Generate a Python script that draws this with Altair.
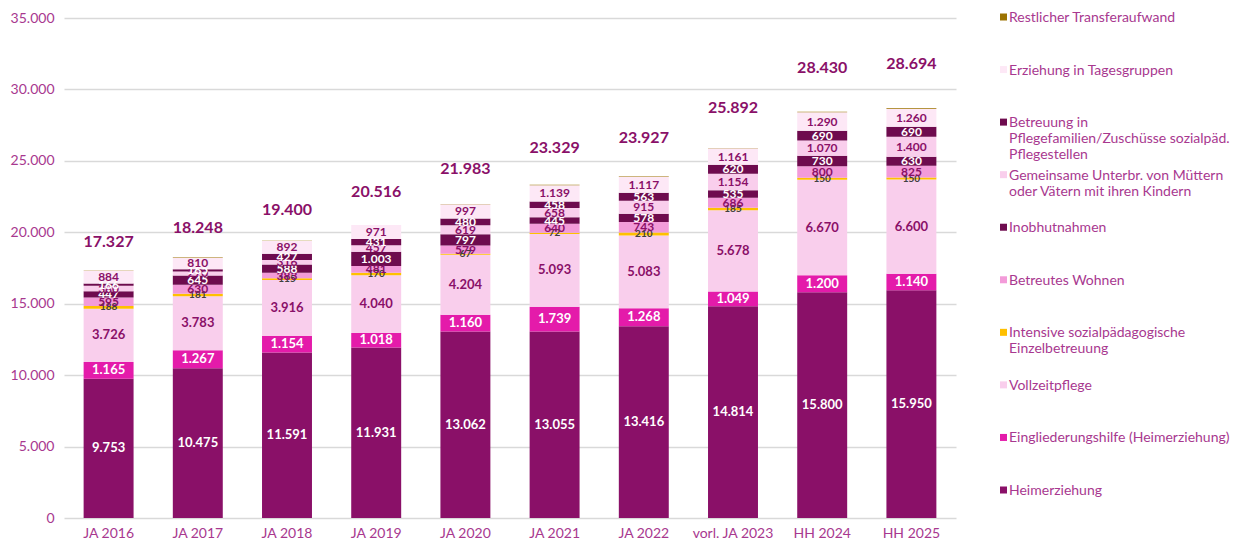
import altair as alt
import pandas as pd

years = ["JA 2016", "JA 2017", "JA 2018", "JA 2019", "JA 2020", "JA 2021",
         "JA 2022", "vorl. JA 2023", "HH 2024", "HH 2025"]

heim = [9753, 10475, 11591, 11931, 13062, 13055, 13416, 14814, 15800, 15950]
eingl = [1165, 1267, 1154, 1018, 1160, 1739, 1268, 1049, 1200, 1140]
vollzeit = [3726, 3783, 3916, 4040, 4204, 5093, 5083, 5678, 6670, 6600]
intensiv = [188, 181, 115, 170, 67, 72, 210, 185, 150, 150]
betreut = [595, 630, 383, 481, 579, 640, 743, 686, 800, 825]
inobhut = [447, 645, 588, 1003, 797, 445, 578, 535, 730, 630]
gemeinsam = [380, 270, 316, 457, 619, 658, 915, 1154, 1070, 1400]
pflege = [166, 165, 427, 431, 480, 458, 563, 620, 690, 690]
tages = [884, 810, 892, 971, 997, 1139, 1117, 1161, 1290, 1260]
rest = [23, 22, 18, 14, 18, 30, 34, 10, 30, 49]
totals = [17327, 18248, 19400, 20516, 21983, 23329, 23927, 25892, 28430, 28694]

series_names = [
    "Heimerziehung",
    "Eingliederungshilfe (Heimerziehung)",
    "Vollzeitpflege",
    "Intensive sozialpädagogische Einzelbetreuung",
    "Betreutes Wohnen",
    "Inobhutnahmen",
    "Gemeinsame Unterbr. von Müttern oder Vätern mit ihren Kindern",
    "Betreuung in Pflegefamilien/Zuschüsse sozialpäd. Pflegestellen",
    "Erziehung in Tagesgruppen",
    "Restlicher Transferaufwand",
]
legend_texts = [
    "Heimerziehung",
    "Eingliederungshilfe (Heimerziehung)",
    "Vollzeitpflege",
    "Intensive sozialpädagogische\nEinzelbetreuung",
    "Betreutes Wohnen",
    "Inobhutnahmen",
    "Gemeinsame Unterbr. von Müttern\noder Vätern mit ihren Kindern",
    "Betreuung in\nPflegefamilien/Zuschüsse sozialpäd.\nPflegestellen",
    "Erziehung in Tagesgruppen",
    "Restlicher Transferaufwand",
]
series_values = [heim, eingl, vollzeit, intensiv, betreut, inobhut,
                 gemeinsam, pflege, tages, rest]
colors = ["#8A1068", "#E41BAA", "#F9CEEC", "#FFC000", "#F39BD9",
          "#6E0B4E", "#F9CEEC", "#6E0B4E", "#FDE8F6", "#9C7300"]
label_colors = ["#FFFFFF", "#FFFFFF", "#8A1068", "#404040", "#8A1068",
                "#FFFFFF", "#8A1068", "#FFFFFF", "#8A1068", "#8A1068"]
label_sizes = [13, 13, 13, 10, 12, 12, 12, 12, 12, 10]

TEXT_COL = "#A8388F"
FONT = "Lato"


def de(v):
    return f"{v:,}".replace(",", ".")


rows = []
for si, (name, vals) in enumerate(zip(series_names, series_values)):
    for yi, yr in enumerate(years):
        rows.append({"year": yr, "series": name, "idx": si, "value": vals[yi],
                     "label": de(vals[yi]), "lc": label_colors[si],
                     "fs": label_sizes[si]})
df = pd.DataFrame(rows)
tot_df = pd.DataFrame({"year": years, "total": totals,
                       "tlabel": [de(t) for t in totals]})

x_enc = alt.X("year:N", sort=years, title=None,
              scale=alt.Scale(paddingInner=0.44, paddingOuter=0.22),
              axis=alt.Axis(labelAngle=0, domain=False, ticks=False,
                            labelPadding=8, labelColor=TEXT_COL,
                            labelFontSize=14, labelFont=FONT))

bars = alt.Chart(df).mark_bar().encode(
    x=x_enc,
    y=alt.Y("value:Q", stack="zero", title=None,
            scale=alt.Scale(domain=[0, 35000]),
            axis=alt.Axis(values=list(range(0, 35001, 5000)),
                          labelExpr="replace(format(datum.value, ','), ',', '.')",
                          grid=True, gridColor="#D9D9D9", gridWidth=1.3,
                          domain=False, ticks=False, labelPadding=10,
                          labelColor=TEXT_COL, labelFontSize=14,
                          labelFont=FONT)),
    color=alt.Color("series:N", scale=alt.Scale(domain=series_names,
                                                range=colors), legend=None),
    order=alt.Order("idx:Q", sort="ascending"),
)

labels = alt.Chart(df).transform_stack(
    stack="value", groupby=["year"],
    sort=[alt.SortField("idx", order="ascending")], as_=["y0", "y1"]
).transform_filter("datum.idx < 9").transform_calculate(
    mid="(datum.y0 + datum.y1) / 2"
).mark_text(fontWeight="bold", font=FONT, baseline="middle").encode(
    x=alt.X("year:N", sort=years),
    y=alt.Y("mid:Q"),
    text="label:N",
    color=alt.Color("lc:N", scale=None),
    size=alt.Size("fs:Q", scale=None),
)

tot_text = alt.Chart(tot_df).transform_calculate(
    ty="datum.total * 1.1 + 250"
).mark_text(
    fontSize=16, fontWeight="bold", font=FONT, color="#8A1068",
    baseline="middle"
).encode(x=alt.X("year:N", sort=years), y=alt.Y("ty:Q"), text="tlabel:N")

main = alt.layer(bars, labels, tot_text).properties(width=892, height=500)

leg_df = pd.DataFrame({"series": series_names, "text": legend_texts,
                       "pos": list(range(len(series_names)))})
leg_order = list(reversed(range(len(series_names))))
leg_y = alt.Y("pos:O", sort=leg_order, axis=None,
              scale=alt.Scale(type="point", range=[-1, 472], padding=0))
leg_sq = alt.Chart(leg_df).mark_square(size=49, opacity=1).encode(
    x=alt.value(7.5), y=leg_y,
    color=alt.Color("series:N", scale=alt.Scale(domain=series_names,
                                                range=colors), legend=None),
)
leg_tx = alt.Chart(leg_df).mark_text(
    align="left", baseline="alphabetic", dy=5, lineBreak="\n",
    lineHeight=16, fontSize=14, font=FONT, color=TEXT_COL
).encode(x=alt.value(13), y=leg_y, text="text:N")
legend = alt.layer(leg_sq, leg_tx).properties(width=235, height=500)

chart = alt.hconcat(main, legend, spacing=40, bounds="flush").properties(
    padding={"left": 2, "top": 3, "right": 0, "bottom": 0}
).configure_view(stroke=None)

chart.save("out.html", embed_options={"renderer": "svg", "actions": False})
